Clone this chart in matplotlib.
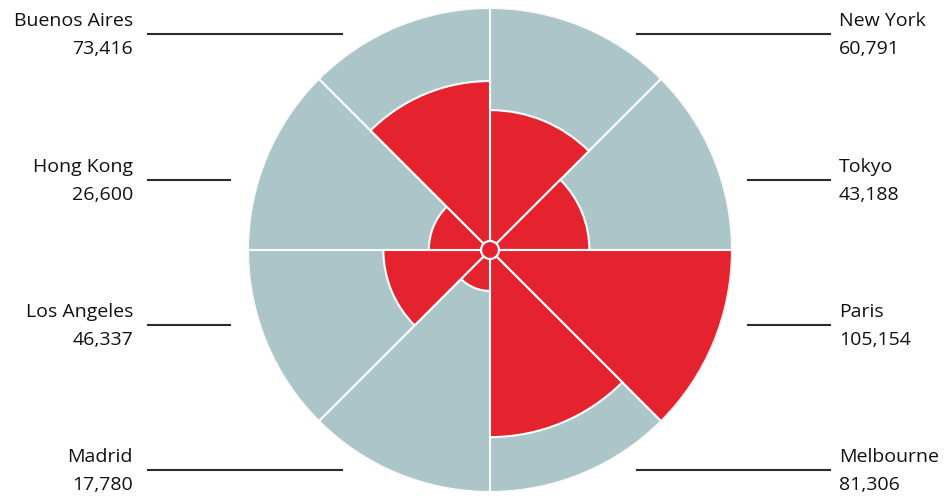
#!/usr/bin/env python3
"""Polar area chart: city values against a full grey ring."""

import numpy as np
import matplotlib

matplotlib.use("Agg")
import matplotlib.pyplot as plt
from matplotlib.patches import Circle

# clockwise from 12 o'clock
cities = ["New York", "Tokyo", "Paris", "Melbourne",
          "Madrid", "Los Angeles", "Hong Kong", "Buenos Aires"]
values = [60791, 43188, 105154, 81306, 17780, 46337, 26600, 73416]
value_labels = ["60,791", "43,188", "105,154", "81,306",
                "17,780", "46,337", "26,600", "73,416"]

RED = "#e5232f"
GREY = "#abc5c8"
plt.rcParams["font.family"] = ["Open Sans", "DejaVu Sans"]

W, H = 948, 500
cx, cy, R = 490, 250, 242

fig = plt.figure(figsize=(W / 100, H / 100), dpi=100)
ax = fig.add_axes([(cx - R) / W, (H - cy - R) / H, 2 * R / W, 2 * R / H],
                  projection="polar")
ax.set_theta_zero_location("N")
ax.set_theta_direction(-1)
n = len(cities)
width = 2 * np.pi / n
theta = np.arange(n) * width + width / 2
vmax = max(values)
ax.bar(theta, [vmax] * n, width=width, color=GREY, edgecolor="white", linewidth=1.5)
ax.bar(theta, values, width=width, color=RED, edgecolor="white", linewidth=1.5)
ax.set_ylim(0, vmax)
ax.set_axis_off()

ov = fig.add_axes([0, 0, 1, 1])
ov.set_xlim(0, W)
ov.set_ylim(H, 0)
ov.set_axis_off()
ov.add_patch(Circle((cx, cy), 9, facecolor=RED, edgecolor="white", lw=1.6, zorder=5))

# label anchors: (line y, line x0, line x1, side)
rows = {"New York": (34, 637, 830, "r"), "Tokyo": (180, 748, 830, "r"),
        "Paris": (325, 748, 830, "r"), "Melbourne": (470, 637, 830, "r"),
        "Buenos Aires": (34, 148, 342, "l"), "Hong Kong": (180, 148, 230, "l"),
        "Los Angeles": (325, 148, 230, "l"), "Madrid": (470, 148, 342, "l")}
for city, lab in zip(cities, value_labels):
    y, x0, x1, side = rows[city]
    ov.plot([x0, x1], [y, y], color="#2b2b2b", lw=1.5)
    if side == "r":
        tx, ha = 839, "left"
    else:
        tx, ha = 133, "right"
    ov.text(tx, y - 13, city, ha=ha, va="center", fontsize=14, color="#111111")
    ov.text(tx, y + 15, lab, ha=ha, va="center", fontsize=14, color="#111111")

fig.savefig("out.png", dpi=100)
